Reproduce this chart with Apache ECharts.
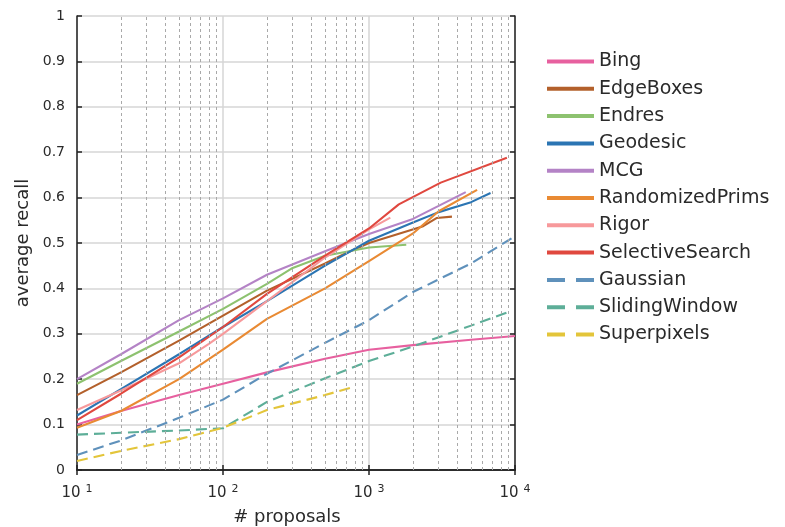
<!DOCTYPE html>
<html>
<head>
<meta charset="utf-8">
<script src="https://cdn.jsdelivr.net/npm/echarts@6/dist/echarts.min.js"></script>
<style>
  html, body { margin: 0; padding: 0; background: #fff; }
  #chart { width: 785px; height: 527px; }
</style>
</head>
<body>
<div id="chart"></div>
<script>
// Average recall versus number of proposals for each proposal method.
const methodNames = ['Bing', 'EdgeBoxes', 'Endres', 'Geodesic', 'MCG', 'RandomizedPrims',
  'Rigor', 'SelectiveSearch', 'Gaussian', 'SlidingWindow', 'Superpixels'];

const bingX = [10, 20, 50, 100, 200, 500, 1000, 2000, 5000, 10000];
const bingY = [0.100, 0.130, 0.165, 0.190, 0.215, 0.245, 0.265, 0.275, 0.287, 0.295];

const edgeBoxesX = [10, 20, 50, 100, 200, 500, 700, 1000, 2350, 2900, 3700];
const edgeBoxesY = [0.165, 0.215, 0.285, 0.340, 0.395, 0.455, 0.478, 0.500, 0.537, 0.555, 0.558];

const endresX = [10, 20, 50, 100, 200, 300, 500, 1000, 1800];
const endresY = [0.190, 0.240, 0.305, 0.355, 0.410, 0.445, 0.472, 0.490, 0.496];

const geodesicX = [10, 20, 50, 100, 200, 500, 1000, 2000, 3000, 5000, 6800];
const geodesicY = [0.120, 0.178, 0.255, 0.315, 0.372, 0.450, 0.505, 0.545, 0.568, 0.590, 0.610];

const mcgX = [10, 20, 50, 100, 200, 500, 1000, 2000, 4600];
const mcgY = [0.200, 0.255, 0.330, 0.378, 0.430, 0.482, 0.520, 0.553, 0.612];

const randomizedPrimsX = [10, 20, 50, 100, 200, 500, 1000, 2000, 3000, 5500];
const randomizedPrimsY = [0.093, 0.130, 0.200, 0.265, 0.333, 0.400, 0.460, 0.521, 0.570, 0.617];

const rigorX = [10, 20, 50, 80, 100, 200, 500, 1000, 1400];
const rigorY = [0.132, 0.175, 0.235, 0.278, 0.300, 0.372, 0.468, 0.530, 0.556];

const selectiveSearchX = [10, 20, 50, 100, 200, 500, 1000, 1600, 3100, 8800];
const selectiveSearchY = [0.110, 0.168, 0.248, 0.315, 0.388, 0.472, 0.532, 0.585, 0.633, 0.688];

const gaussianX = [10, 20, 50, 100, 200, 500, 1000, 2000, 5000, 10000];
const gaussianY = [0.033, 0.065, 0.115, 0.155, 0.212, 0.280, 0.330, 0.392, 0.455, 0.515];

const slidingWindowX = [10, 20, 50, 100, 200, 500, 1000, 2000, 5000, 9000];
const slidingWindowY = [0.078, 0.082, 0.087, 0.092, 0.150, 0.202, 0.240, 0.272, 0.318, 0.348];

const superpixelsX = [10, 20, 50, 100, 200, 500, 800];
const superpixelsY = [0.020, 0.042, 0.068, 0.093, 0.132, 0.165, 0.184];

const methodX = [bingX, edgeBoxesX, endresX, geodesicX, mcgX, randomizedPrimsX,
  rigorX, selectiveSearchX, gaussianX, slidingWindowX, superpixelsX];
const methodY = [bingY, edgeBoxesY, endresY, geodesicY, mcgY, randomizedPrimsY,
  rigorY, selectiveSearchY, gaussianY, slidingWindowY, superpixelsY];
const dashedMethods = ['Gaussian', 'SlidingWindow', 'Superpixels'];

const methodColors = ['#e7609f', '#b3602b', '#8dc26f', '#2b75b3', '#b483c6', '#e98a33',
  '#f7999b', '#e0483f', '#5f91bb', '#5dae98', '#e3c53a'];

// Minor decade positions (2..9 x 10^k) for the dotted vertical grid
const minorGridX = [20, 30, 40, 50, 60, 70, 80, 90,
  200, 300, 400, 500, 600, 700, 800, 900,
  2000, 3000, 4000, 5000, 6000, 7000, 8000, 9000];

const FONT = 'DejaVu Sans';
const TEXT = '#2a2a2a';
const FRAME = { show: true, lineStyle: { color: '#222', width: 1.5 } };

// Legend keys: a solid bar, or two dashes for the dashed methods
const SOLID_KEY = 'path://M0,0H47V4H0Z';
const DASHED_KEY = 'path://M0,0H18V4H0Z M29,0H47V4H29Z';

const series = methodNames.map((name, i) => {
  const dashed = dashedMethods.includes(name);
  return {
    name: name,
    type: 'line',
    xAxisIndex: 0,
    yAxisIndex: 0,
    symbol: 'none',
    smooth: false,
    z: 3,
    data: methodX[i].map((x, j) => [x, methodY[i][j]]),
    lineStyle: { color: methodColors[i], width: 2.1, type: dashed ? [11, 6] : 'solid' },
    itemStyle: { color: methodColors[i] }
  };
});

// Dotted minor grid drawn beneath the curves
series.unshift({
  name: 'minorGrid',
  type: 'line',
  data: [],
  z: 1,
  silent: true,
  markLine: {
    silent: true,
    symbol: ['none', 'none'],
    animation: false,
    label: { show: false },
    lineStyle: { color: '#a9a9a9', width: 1, type: [3, 3] },
    data: minorGridX.map(v => ({ xAxis: v }))
  }
});

const legendData = methodNames.map(name => ({
  name: name,
  icon: dashedMethods.includes(name) ? DASHED_KEY : SOLID_KEY
}));

const option = {
  animation: false,
  backgroundColor: '#ffffff',
  grid: { left: 77, right: 270, top: 16, bottom: 57, outerBoundsMode: 'none', containLabel: false },
  xAxis: [
    {
      type: 'log',
      logBase: 10,
      min: 10,
      max: 10000,
      position: 'bottom',
      name: '# proposals',
      nameLocation: 'middle',
      nameGap: 38,
      nameTextStyle: { fontFamily: FONT, fontSize: 18, color: TEXT, padding: [0, 18, 0, 0] },
      axisLine: FRAME,
      axisTick: { show: true, inside: true, length: 5, lineStyle: { color: '#222', width: 1.5 } },
      splitLine: { show: true, lineStyle: { color: '#d6d6d6', width: 1.5 } },
      minorTick: { show: false },
      axisLabel: {
        margin: 14,
        formatter: v => '{b|10}{s|' + Math.round(Math.log10(v)) + '}',
        rich: {
          b: { fontFamily: FONT, fontSize: 15, color: TEXT, verticalAlign: 'bottom' },
          s: { fontFamily: FONT, fontSize: 11, color: TEXT, verticalAlign: 'bottom', padding: [0, 0, 6, 5] }
        }
      }
    },
    {
      type: 'log',
      logBase: 10,
      min: 10,
      max: 10000,
      position: 'top',
      axisLine: FRAME,
      axisTick: { show: true, inside: true, length: 5, lineStyle: { color: '#222', width: 1.5 } },
      axisLabel: { show: false },
      splitLine: { show: false }
    }
  ],
  yAxis: [
    {
      type: 'value',
      min: 0,
      max: 1,
      interval: 0.1,
      position: 'left',
      name: 'average recall',
      nameLocation: 'middle',
      nameGap: 37,
      nameRotate: 90,
      nameTextStyle: { fontFamily: FONT, fontSize: 18, color: TEXT },
      axisLine: FRAME,
      axisTick: { show: true, inside: true, length: 5, lineStyle: { color: '#222', width: 1.5 } },
      splitLine: { show: true, lineStyle: { color: '#d6d6d6', width: 1.5 } },
      axisLabel: {
        margin: 12,
        fontFamily: FONT,
        fontSize: 14,
        color: TEXT,
        formatter: v => (v === 0 ? '0' : v === 1 ? '1' : v.toFixed(1))
      }
    },
    {
      type: 'value',
      min: 0,
      max: 1,
      interval: 0.1,
      position: 'right',
      axisLine: FRAME,
      axisTick: { show: true, inside: true, length: 5, lineStyle: { color: '#222', width: 1.5 } },
      axisLabel: { show: false },
      splitLine: { show: false }
    }
  ],
  legend: {
    orient: 'vertical',
    left: 542,
    top: 47,
    itemWidth: 47,
    itemHeight: 4,
    itemGap: 8.3,
    textStyle: { fontFamily: FONT, fontSize: 19, color: TEXT },
    data: legendData
  },
  series: series
};

const chart = echarts.init(document.getElementById('chart'), null, { renderer: 'canvas' });
chart.setOption(option);
</script>
</body>
</html>
